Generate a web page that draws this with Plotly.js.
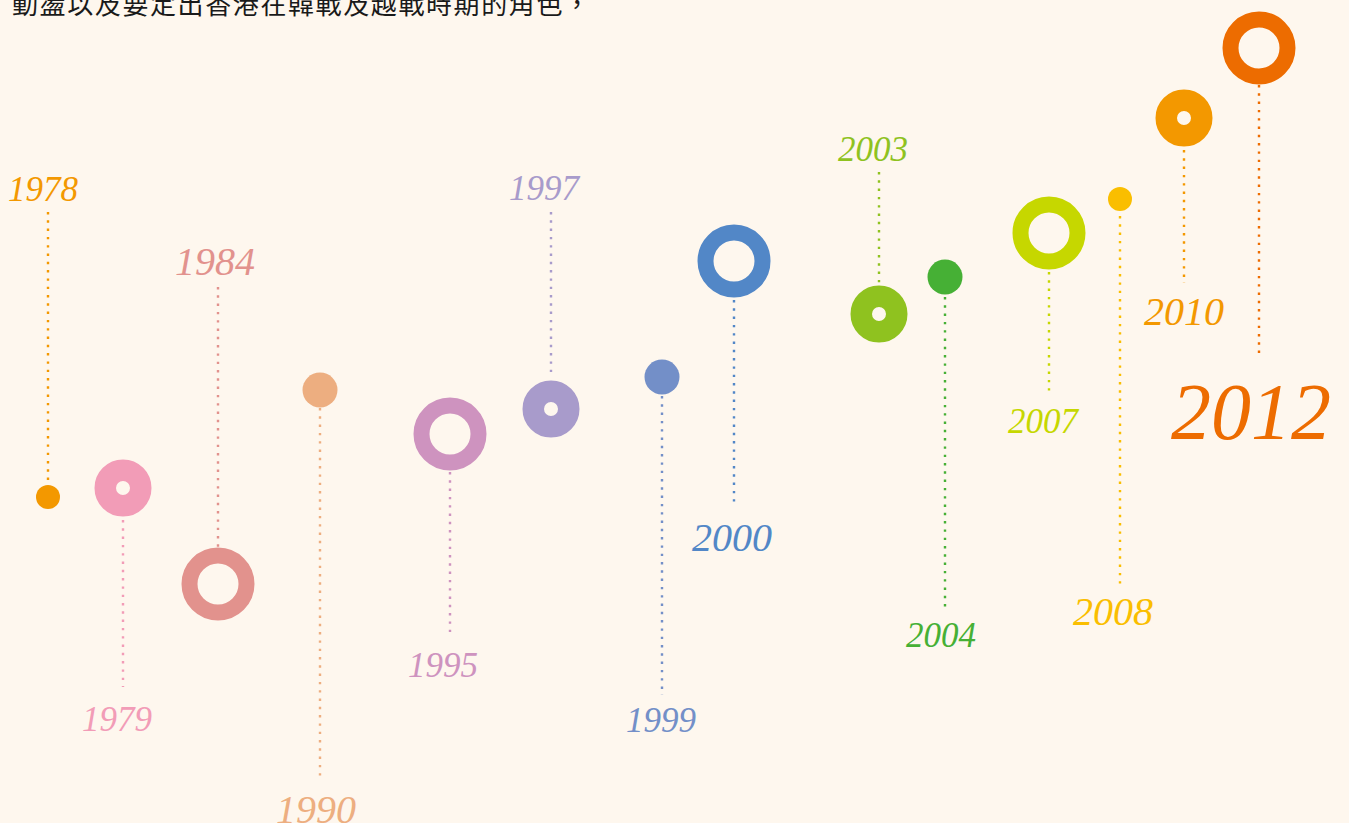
<!DOCTYPE html>
<html>
<head>
<meta charset="utf-8">
<script src="https://cdn.plot.ly/plotly-3.0.1.min.js"></script>
<style>
html,body{margin:0;padding:0;background:#FEF7EE;}
#chart{width:1349px;height:823px;}
.gtitle{letter-spacing:1.6px;}
</style>
</head>
<body>
<div id="chart"></div>
<script>
// ---- data ----
const years     = ['1978','1979','1984','1990','1995','1997','1999','2000','2003','2004','2007','2008','2010','2012'];
const posX      = [48, 123, 218, 320, 450, 551, 662, 734, 879, 945, 1049, 1120, 1184, 1259];
const circleY   = [497, 488, 584, 390, 434, 409, 377, 261, 314, 277, 233, 199, 118, 48];
const kinds     = ['dotS','donut','ring','dotM','ring','donut','dotM','ring','donut','dotM','ring','dotS','donut','ring'];
const stemFrom  = [212, 520, 287, 408, 472, 212, 396, 300, 172, 297, 272, 216, 150, 85];
const stemTo    = [480, 687, 547, 780, 637, 373, 695, 506, 283, 607, 395, 584, 283, 358];
const labelX    = [43, 117, 215, 316, 443, 545, 661, 732, 873, 941, 1044, 1113, 1184, 1251];
const labelY    = [189, 719, 261, 809, 665, 188, 720, 537, 149, 635, 421, 611, 311, 412];
const labelSize = ['s','s','m','m','s','s','s','m','s','s','s','m','m','l'];
const colors    = ['#F39800','#F29CB7','#E2928D','#EDAE80','#CE93BF','#A89BCB','#738FC8','#5287C7','#8FC21F','#46B035','#C6D700','#FABE00','#F39800','#ED6C00'];
const headline  = '動盪以及要定出香港在韓戰及越戰時期的角色，';

// ---- styles ----
const BG = '#FEF7EE';
const markerStyle = {
  dotS:  {size: 24, lw: 0},
  dotM:  {size: 35, lw: 0},
  ring:  {size: 57, lw: 16},
  donut: {size: 35.5, lw: 21.5}
};
const fontSizes = {s: 35, m: 40, l: 80};

const traces = [];
for (let i = 0; i < years.length; i++) {
  traces.push({
    type: 'scatter', mode: 'lines',
    x: [posX[i], posX[i]], y: [stemFrom[i], stemTo[i]],
    line: {color: colors[i], width: 2.4, dash: '2.4px,5.9px'},
    hoverinfo: 'skip', showlegend: false
  });
}
traces.push({
  type: 'scatter', mode: 'markers',
  x: posX, y: circleY,
  marker: {
    symbol: 'circle',
    size: kinds.map(k => markerStyle[k].size),
    color: kinds.map((k, i) => markerStyle[k].lw ? BG : colors[i]),
    line: {
      width: kinds.map(k => markerStyle[k].lw),
      color: colors
    },
    opacity: 1
  },
  text: years, hoverinfo: 'text', showlegend: false
});

const annotations = years.map((y, i) => ({
  x: labelX[i], y: labelY[i], xref: 'x', yref: 'y',
  text: y, showarrow: false, xanchor: 'center', yanchor: 'middle',
  font: {family: '"Liberation Serif", "Times New Roman", serif', style: 'italic', size: fontSizes[labelSize[i]], color: colors[i]}
}));

const layout = {
  width: 1349, height: 823,
  margin: {l: 0, r: 0, t: 0, b: 0, pad: 0},
  paper_bgcolor: BG, plot_bgcolor: BG,
  title: {
    text: headline, x: 12/1349, xanchor: 'left', xref: 'paper',
    y: 1 - 5/823, yanchor: 'middle', yref: 'container',
    font: {family: '"Noto Sans CJK TC", "Noto Sans CJK SC", sans-serif', size: 26, color: '#1a1a1a'}
  },
  xaxis: {range: [0, 1349], visible: false, fixedrange: true},
  yaxis: {range: [823, 0], visible: false, fixedrange: true},
  annotations: annotations,
  showlegend: false
};

Plotly.newPlot('chart', traces, layout, {displayModeBar: false, staticPlot: true});
</script>
</body>
</html>
